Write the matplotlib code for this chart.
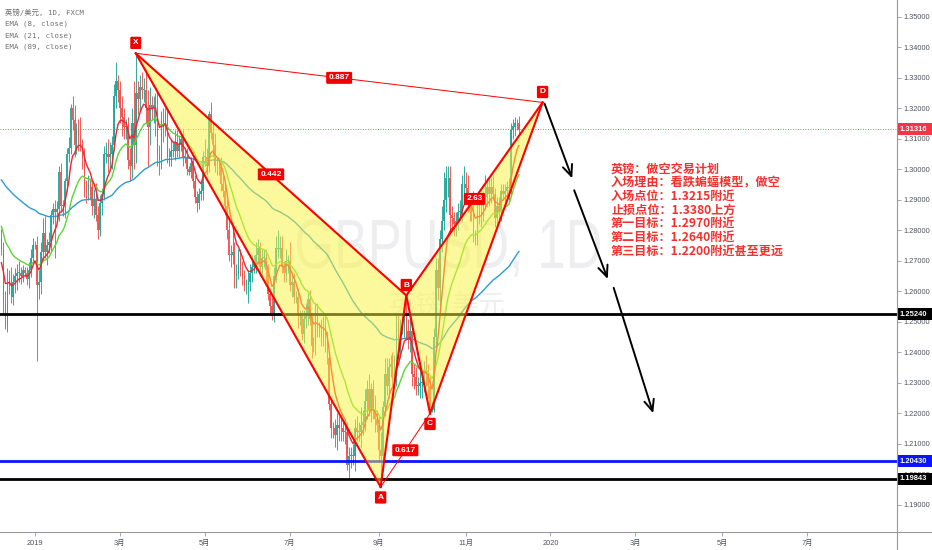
import numpy as np
import pandas as pd
import matplotlib
matplotlib.use("Agg")
import matplotlib.pyplot as plt
import matplotlib.transforms as mtransforms
from matplotlib.patches import Rectangle, Polygon, PathPatch
from matplotlib.lines import Line2D
from matplotlib.textpath import TextPath
from matplotlib.font_manager import FontProperties

plt.rcParams["font.family"] = ["Liberation Sans", "Noto Sans CJK SC"]

# GBPUSD daily candles (FXCM), 2018-12-07 .. 2019-12-10
first_open = 1.2770
close_2018_12 = [1.2740, 1.2560, 1.2490, 1.2630, 1.2640, 1.2580, 1.2630, 1.2650, 1.2660, 1.2660,
                 1.2650, 1.2670, 1.2660, 1.2640, 1.2670, 1.2710, 1.2750]
close_2019_01 = [1.2750, 1.2620, 1.2630, 1.2730, 1.2790, 1.2730, 1.2750, 1.2760, 1.2850, 1.2870,
                 1.2860, 1.2870, 1.2990, 1.2880, 1.2880, 1.2960, 1.3050, 1.3070, 1.3200, 1.3160,
                 1.3080, 1.3130, 1.3110]
close_2019_02 = [1.3080, 1.3040, 1.2940, 1.2930, 1.2950, 1.2940, 1.2880, 1.2900, 1.2850, 1.2800,
                 1.2890, 1.2920, 1.3050, 1.3050, 1.3040, 1.3050, 1.3080, 1.3240, 1.3290, 1.3260]
close_2019_03 = [1.3200, 1.3170, 1.3140, 1.3140, 1.3030, 1.3010, 1.3150, 1.3080, 1.3250, 1.3230,
                 1.3270, 1.3260, 1.3260, 1.3200, 1.3140, 1.3210, 1.3200, 1.3210, 1.3200, 1.3050,
                 1.3030]
close_2019_04 = [1.3160, 1.3140, 1.3180, 1.3040, 1.3040, 1.3060, 1.3060, 1.3090, 1.3060, 1.3080,
                 1.3100, 1.3040, 1.3040, 1.3000, 1.2990, 1.3020, 1.2960, 1.2910, 1.2890, 1.2920,
                 1.2930, 1.3040]
close_2019_05 = [1.3040, 1.3010, 1.3180, 1.3120, 1.3080, 1.3010, 1.3010, 1.3010, 1.2950, 1.2930,
                 1.2880, 1.2800, 1.2720, 1.2720, 1.2730, 1.2650, 1.2660, 1.2710, 1.2670, 1.2650,
                 1.2620, 1.2620, 1.2630]
close_2019_06 = [1.2660, 1.2680, 1.2690, 1.2720, 1.2740, 1.2680, 1.2710, 1.2710, 1.2670, 1.2590,
                 1.2550, 1.2520, 1.2650, 1.2740, 1.2740, 1.2740, 1.2680, 1.2660, 1.2700, 1.2700]
close_2019_07 = [1.2620, 1.2630, 1.2580, 1.2580, 1.2520, 1.2520, 1.2460, 1.2510, 1.2520, 1.2575,
                 1.2510, 1.2420, 1.2420, 1.2510, 1.2480, 1.2480, 1.2450, 1.2470, 1.2450, 1.2380,
                 1.2230, 1.2150, 1.2150]
close_2019_08 = [1.2130, 1.2160, 1.2150, 1.2150, 1.2140, 1.2140, 1.2030, 1.2060, 1.2060, 1.2060,
                 1.2150, 1.2140, 1.2140, 1.2160, 1.2170, 1.2240, 1.2280, 1.2210, 1.2280, 1.2210,
                 1.2180, 1.2160]
close_2019_09 = [1.2080, 1.2060, 1.2220, 1.2330, 1.2290, 1.2350, 1.2360, 1.2330, 1.2340, 1.2500,
                 1.2420, 1.2490, 1.2490, 1.2520, 1.2470, 1.2440, 1.2470, 1.2330, 1.2320, 1.2290,
                 1.2290]
close_2019_10 = [1.2300, 1.2300, 1.2340, 1.2330, 1.2290, 1.2210, 1.2210, 1.2450, 1.2670, 1.2610,
                 1.2770, 1.2830, 1.2900, 1.2970, 1.2970, 1.2850, 1.2840, 1.2820, 1.2830, 1.2860,
                 1.2860, 1.2950, 1.2950]
close_2019_11 = [1.2940, 1.2890, 1.2860, 1.2870, 1.2780, 1.2770, 1.2860, 1.2850, 1.2860, 1.2900,
                 1.2910, 1.2940, 1.2920, 1.2940, 1.2920, 1.2840, 1.2880, 1.2860, 1.2930, 1.2920,
                 1.2930]
close_2019_12 = [1.2940, 1.2940, 1.3130, 1.3140, 1.3150, 1.3150, 1.31316]

# wick lengths above / below the body, in pips
wick_up = [35, 20, 40, 45, 30, 40, 25, 25, 30, 40, 20, 15, 10, 20, 25, 30, 25,
           15, 30, 40, 30, 50, 55, 20, 35, 15, 20, 30, 25, 20, 30, 20, 10, 20, 35, 15, 40, 50, 20, 35,
           60, 20, 30, 25, 30, 20, 25, 35, 55, 30, 25, 20, 25, 40, 50, 40, 30, 40, 60, 20,
           30, 40, 30, 25, 30, 40, 50, 140, 130, 40, 40, 50, 40, 70, 60, 60, 30, 30, 40, 60, 30,
           30, 40, 20, 20, 30, 40, 30, 40, 40, 30, 20, 30, 30, 30, 10, 20, 20, 20, 20, 20, 30, 20,
           60, 30, 10, 40, 30, 40, 30, 20, 30, 30, 30, 20, 30, 30, 80, 30, 30, 30, 30, 30, 20, 20, 40,
           30, 40, 30, 40, 30, 20, 30, 30, 30, 20, 20, 30, 30, 40, 60, 40, 40, 20, 40, 20,
           60, 30, 30, 20, 30, 20, 20, 30, 40, 20, 30, 20, 30, 50, 50, 20, 30, 50, 50, 20, 20, 20, 20,
           30, 40, 30, 40, 30, 40, 30, 30, 30, 40, 30, 40, 30, 60, 40, 40, 30, 50, 20, 30, 50, 30,
           30, 60, 20, 50, 50, 30, 30, 40, 50, 30, 30, 20, 40, 40, 66, 40, 40, 20, 30, 30, 30,
           50, 40, 30, 50, 30, 30, 30, 30, 40, 40, 30, 50, 90, 40, 42, 40, 30, 20, 30, 30, 40, 30, 60,
           40, 40, 30, 50, 60, 20, 30, 30, 30, 30, 70, 30, 30, 30, 40, 20, 30, 30, 20, 20, 20,
           20, 30, 20, 25, 20, 15, 25]
wick_dn = [20, 30, 15, 25, 40, 20, 25, 35, 45, 30, 25, 20, 10, 20, 30, 25, 15,
           10, 250, 45, 40, 30, 20, 45, 25, 30, 30, 150, 30, 40, 20, 35, 40, 30, 25, 20, 30, 40, 30, 50,
           20, 40, 30, 40, 30, 40, 30, 40, 20, 30, 20, 40, 20, 30, 50, 40, 50, 20, 40, 40,
           50, 60, 40, 40, 30, 50, 40, 80, 60, 50, 40, 30, 40, 50, 130, 60, 40, 50, 90, 40, 50,
           30, 50, 30, 20, 30, 30, 20, 30, 20, 20, 20, 30, 20, 20, 10, 20, 20, 20, 30, 20, 20, 30,
           30, 30, 20, 20, 40, 20, 30, 30, 20, 20, 30, 30, 20, 40, 30, 40, 40, 20, 20, 30, 20, 30, 60,
           30, 30, 20, 30, 30, 30, 30, 30, 40, 20, 20, 15, 20, 20, 30, 30, 20, 30, 30, 40,
           20, 40, 20, 20, 40, 30, 20, 30, 30, 30, 20, 40, 20, 30, 30, 30, 30, 30, 50, 20, 20, 30, 30,
           40, 50, 40, 40, 30, 40, 15, 45, 40, 30, 50, 30, 30, 50, 30, 30, 60, 20, 40, 30, 40, 20,
           40, 102, 50, 30, 30, 40, 30, 40, 40, 50, 30, 40, 30, 40, 30, 30, 40, 40, 40, 30, 30,
           40, 50, 30, 40, 40, 11, 5, 5, 40, 40, 80, 40, 30, 40, 60, 60, 40, 40, 40, 30, 30, 30, 40,
           30, 30, 30, 30, 20, 20, 20, 30, 40, 30, 30, 30, 40, 30, 20, 30, 30, 30, 30, 20, 30,
           30, 40, 20, 30, 30, 20, 20]

# EMA values at the left edge of the chart (history before the first visible bar)
ema_seed = {8: 1.2680, 21: 1.2820, 89: 1.2970}

# bat pattern points (date, price) and leg ratios
pattern = {"X": ("2019-03-13", 1.3380), "A": ("2019-09-03", 1.1958), "B": ("2019-09-20", 1.2586),
           "C": ("2019-10-08", 1.2199), "D": ("2019-12-26", 1.3219)}
ratios = [("X", "D", "0.887"), ("X", "B", "0.442"), ("A", "C", "0.617"), ("B", "D", "2.63")]

# horizontal levels and the short-trade plan
levels = [(1.25240, "#000000"), (1.20430, "#0a14ff"), (1.19843, "#000000")]
last_price = 1.31316
entry = 1.3215
targets = [1.2970, 1.2640, 1.2200]
arrow_bars = [("2019-12-27", "2020-01-16"), ("2020-01-17", "2020-02-11"), ("2020-02-14", "2020-03-13")]
arrow_from = [entry, 1.2931, 1.2611]
plan = ["英镑：做空交易计划", "入场理由：看跌蝙蝠模型，做空", "入场点位：1.3215附近", "止损点位：1.3380上方",
        "第一目标：1.2970附近", "第二目标：1.2640附近", "第三目标：1.2200附近甚至更远"]

month_starts = ["2019-01-01", "2019-03-01", "2019-05-01", "2019-07-01", "2019-09-01", "2019-11-01",
                "2020-01-01", "2020-03-01", "2020-05-01", "2020-07-01"]
month_labels = ["2019", "3月", "5月", "7月", "9月", "11月", "2020", "3月", "5月", "7月"]


def bar_of(d):
    d = np.busday_offset(np.datetime64(d, "D"), 0, roll="forward")
    return int(np.busday_count(np.datetime64("2019-01-01"), d))


def ema(values, span, seed):
    a = 2.0 / (span + 1)
    out, e = [], seed
    for v in values:
        e = e + a * (v - e)
        out.append(e)
    return np.array(out)


closes = np.array(close_2018_12 + close_2019_01 + close_2019_02 + close_2019_03 + close_2019_04 +
                  close_2019_05 + close_2019_06 + close_2019_07 + close_2019_08 + close_2019_09 +
                  close_2019_10 + close_2019_11 + close_2019_12)
dates = pd.bdate_range("2018-12-07", "2019-12-10")
idx = np.array([bar_of(d) for d in dates.strftime("%Y-%m-%d")])
opens = np.r_[first_open, closes[:-1]]
highs = np.maximum(opens, closes) + np.array(wick_up) * 1e-4
lows = np.minimum(opens, closes) - np.array(wick_dn) * 1e-4

W, H = 932, 550
fig = plt.figure(figsize=(W / 100, H / 100), dpi=100)
ax = fig.add_axes([0, 18 / H, 897 / W, 532 / H])
PX = mtransforms.Affine2D().scale(1, -1).translate(0, H)  # pixel coords from top-left

UP, DOWN = "#26a69a", "#ef5350"
col = np.where(closes >= opens, UP, DOWN)
ax.vlines(idx, lows, highs, colors=col, lw=0.7, alpha=0.95, zorder=2)
ax.bar(idx, np.maximum(np.abs(closes - opens), 0.0002), bottom=np.minimum(opens, closes),
       width=0.8, color=col, lw=0, alpha=0.95, zorder=2)

for span, c in [(89, "#2b9bd3"), (21, "#5cd634"), (8, "#ee2430")]:
    ax.plot(idx, ema(closes, span, ema_seed[span]), color=c, lw=1.0, zorder=3)

for price, c in levels:
    ax.axhline(price, color=c, lw=2.0, zorder=3.5)
ax.axhline(last_price, color="#f23645", lw=0.6, ls=(0, (1, 2)), zorder=3.5)

# bat pattern
pts = {k: (bar_of(d), p) for k, (d, p) in pattern.items()}
for tri in [("X", "A", "B"), ("B", "C", "D")]:
    ax.add_patch(Polygon([pts[k] for k in tri], closed=True, fc="#fbf53c", ec="none", alpha=0.5, zorder=4))
for a, b in [("X", "A"), ("A", "B"), ("X", "B"), ("B", "C"), ("C", "D"), ("B", "D")]:
    ax.plot([pts[a][0], pts[b][0]], [pts[a][1], pts[b][1]], color="#ff0000", lw=1.5, zorder=4.5)
for a, b, r in ratios:
    if (a, b) in [("X", "D"), ("A", "C")]:
        ax.plot([pts[a][0], pts[b][0]], [pts[a][1], pts[b][1]], color="#ff0000", lw=0.7, zorder=4.5)
    ax.text((pts[a][0] + pts[b][0]) / 2, (pts[a][1] + pts[b][1]) / 2, r, ha="center", va="center",
            fontsize=6, weight="bold", color="white", zorder=6,
            bbox=dict(boxstyle="round,pad=0.3,rounding_size=0.15", fc="#f40000", ec="none"))
for k, (x, p) in pts.items():
    dy = -7.5 if k in ("A", "C") else 7.5
    ax.annotate(k, (x, p), xytext=(0, dy), textcoords="offset points", ha="center", va="center",
                fontsize=6, weight="bold", color="white", zorder=6,
                bbox=dict(boxstyle="round,pad=0.32,rounding_size=0.15", fc="#f40000", ec="none"))

for (b0, b1), p0, p1 in zip(arrow_bars, arrow_from, targets):
    ax.annotate("", xy=(bar_of(b1), p1), xytext=(bar_of(b0), p0), zorder=6,
                arrowprops=dict(arrowstyle="->,head_length=0.8,head_width=0.35", color="black",
                                lw=1.4, shrinkA=0, shrinkB=0))

ax.set_xlim(-35 / 1.975, (897 - 35) / 1.975)
ax.set_ylim(1.35 - (532 - 16.7) / 3050, 1.35 + 16.7 / 3050)
for s in ax.spines.values():
    s.set_visible(False)
ax.yaxis.tick_right()
ax.set_yticks(np.arange(1.19, 1.3501, 0.01))
ax.yaxis.set_major_formatter(matplotlib.ticker.FormatStrFormatter("%.5f"))
ax.set_xticks([bar_of(d) for d in month_starts], month_labels)
ax.tick_params(axis="both", length=3, width=0.6, color="#9598a1", labelsize=5.3,
               labelcolor="#50535e", pad=1.5)
ax.tick_params(axis="x", pad=2.5)

# watermark
fp = FontProperties(family="Liberation Sans")
tp = TextPath((0, 0), "GBPUSD, 1D", size=100, prop=fp)
ext = tp.get_extents()
cap = TextPath((0, 0), "D", size=100, prop=fp).get_extents().y1
tr = mtransforms.Affine2D().translate(-ext.x0, 0).scale(303 / ext.width, 48 / cap).translate(297, H - 268)
ax.add_artist(PathPatch(tp, transform=tr, fc="#787b86", ec="none", alpha=0.12, zorder=0.5))
ax.text(447, 305, "英镑/美元", transform=PX, ha="center", va="center", fontsize=19,
        family="Noto Sans CJK SC", color="#787b86", alpha=0.12, zorder=0.5)

# legend, top-left
legend = ["英镑/美元, 1D, FXCM", "EMA (8, close)", "EMA (21, close)", "EMA (89, close)"]
for k, s in enumerate(legend):
    fig.text(5, 12 + k * 11.7, s, transform=PX, va="center", fontsize=5.3, color="#707070",
             family=["DejaVu Sans Mono", "Noto Sans CJK SC"])

for k, s in enumerate(plan):
    fig.text(611, 169 + k * 13.67, s, transform=PX, va="center", fontsize=8.7, weight="bold",
             color="#f5302e", family=["Noto Sans CJK SC", "DejaVu Sans"])

# axis frame lines
fig.add_artist(Line2D([0, W], [18, 18], transform=mtransforms.IdentityTransform(), color="#9598a1", lw=0.8))
fig.add_artist(Line2D([897, 897], [0, H], transform=mtransforms.IdentityTransform(), color="#9598a1", lw=0.8))

# price tags on the right scale
fig.canvas.draw()
for price, c in [(last_price, "#f23645")] + levels:
    yd = ax.transData.transform((0, price))[1]
    fig.add_artist(Rectangle((897, yd - 6), 35, 12, transform=mtransforms.IdentityTransform(),
                             fc=c, ec="none"))
    fig.text(900, yd, f"{price:.5f}", transform=mtransforms.IdentityTransform(), va="center",
             fontsize=5.4, weight="bold", color="white")

fig.savefig("out.png", dpi=100)
